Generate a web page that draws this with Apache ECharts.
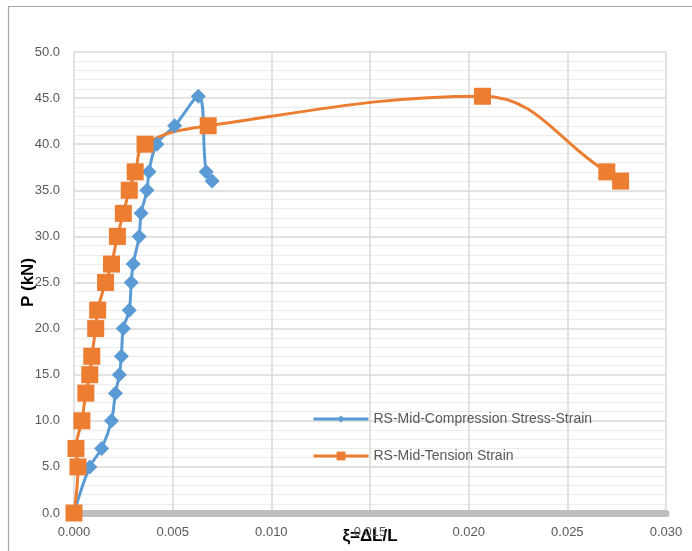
<!DOCTYPE html>
<html>
<head>
<meta charset="utf-8">
<script src="https://cdn.jsdelivr.net/npm/echarts@6/dist/echarts.min.js"></script>
<style>
  html, body { margin: 0; padding: 0; background: #fff; }
  #main { width: 692px; height: 551px; }
</style>
</head>
<body>
<div id="main"></div>
<script>
// 数据
var compressionName = 'RS-Mid-Compression Stress-Strain'
var tensionName = 'RS-Mid-Tension Strain'
var compressionStrain = [0, 0.0008, 0.0014, 0.0019, 0.0021, 0.0023, 0.0024, 0.0025, 0.0028, 0.0029, 0.0030, 0.0033, 0.0034, 0.0037, 0.0038, 0.0042, 0.0051, 0.0063, 0.0067, 0.0070]
var compressionLoad = [0, 5, 7, 10, 13, 15, 17, 20, 22, 25, 27, 30, 32.5, 35, 37, 40, 42, 45.2, 37, 36]
var tensionStrain = [0, 0.0002, 0.0001, 0.0004, 0.0006, 0.0008, 0.0009, 0.0011, 0.0012, 0.0016, 0.0019, 0.0022, 0.0025, 0.0028, 0.0031, 0.0036, 0.0068, 0.0207, 0.0270, 0.0277]
var tensionLoad = [0, 5, 7, 10, 13, 15, 17, 20, 22, 25, 27, 30, 32.5, 35, 37, 40, 42, 45.2, 37, 36]

function pairs(xs, ys) {
    return xs.map(function (x, i) { return [x, ys[i]] })
}

var font = 'Liberation Sans, Arial, sans-serif'
var myChart = echarts.init(document.getElementById('main'))

var option = {
    backgroundColor: '#fff',
    animation: false,
    grid: { left: 74, right: 26, top: 52, bottom: 38, outerBoundsMode: 'none' },
    graphic: [{
        type: 'rect',
        shape: { x: 8.5, y: 6.5, width: 720, height: 600 },
        style: { fill: 'none', stroke: '#a6a6a6', lineWidth: 1.2 },
        silent: true
    }],
    legend: [{
        data: [compressionName],
        left: 307, top: 407,
        itemWidth: 55, itemHeight: 9,
        selectedMode: false,
        lineStyle: { width: 3 },
        textStyle: { color: '#595959', fontSize: 14, fontFamily: font }
    }, {
        data: [tensionName],
        left: 307, top: 444,
        itemWidth: 55, itemHeight: 11,
        selectedMode: false,
        lineStyle: { width: 3 },
        textStyle: { color: '#595959', fontSize: 14, fontFamily: font }
    }],
    xAxis: {
        type: 'value',
        min: 0, max: 0.03, interval: 0.005,
        name: 'ξ=ΔL/L',
        nameLocation: 'middle',
        nameGap: 15,
        nameMoveOverlap: false,
        nameTextStyle: { color: '#000', fontSize: 17, fontWeight: 'bold', fontFamily: font },
        axisLine: { show: true, onZero: false, lineStyle: { color: '#bfbfbf', width: 7 } },
        axisTick: { show: false },
        axisLabel: {
            color: '#595959', fontSize: 13, fontFamily: font, margin: 13,
            formatter: function (v) { return v.toFixed(3) }
        },
        splitLine: { show: true, lineStyle: { color: '#d9d9d9', width: 1.5 } }
    },
    yAxis: {
        type: 'value',
        min: 0, max: 50, interval: 5,
        name: 'P (kN)',
        nameLocation: 'middle',
        nameGap: 37,
        nameMoveOverlap: false,
        nameTextStyle: { color: '#000', fontSize: 17, fontWeight: 'bold', fontFamily: font },
        axisLine: { show: false },
        axisTick: { show: false },
        axisLabel: {
            color: '#595959', fontSize: 13, fontFamily: font, margin: 14,
            formatter: function (v) { return v.toFixed(1) }
        },
        splitLine: { show: true, lineStyle: { color: '#d9d9d9', width: 1.5 } },
        minorTick: { show: false, splitNumber: 5 },
        minorSplitLine: { show: true, lineStyle: { color: '#ececec', width: 1 } }
    },
    series: [{
        name: compressionName,
        type: 'line',
        smooth: 0.4,
        data: pairs(compressionStrain, compressionLoad),
        symbol: 'diamond',
        symbolSize: 15,
        lineStyle: { color: '#5b9bd5', width: 3 },
        itemStyle: { color: '#5b9bd5' }
    }, {
        name: tensionName,
        type: 'line',
        smooth: 0.4,
        data: pairs(tensionStrain, tensionLoad),
        symbol: 'rect',
        symbolSize: 17,
        lineStyle: { color: '#ed7d31', width: 3 },
        itemStyle: { color: '#ed7d31' }
    }]
}

myChart.setOption(option)
</script>
</body>
</html>
